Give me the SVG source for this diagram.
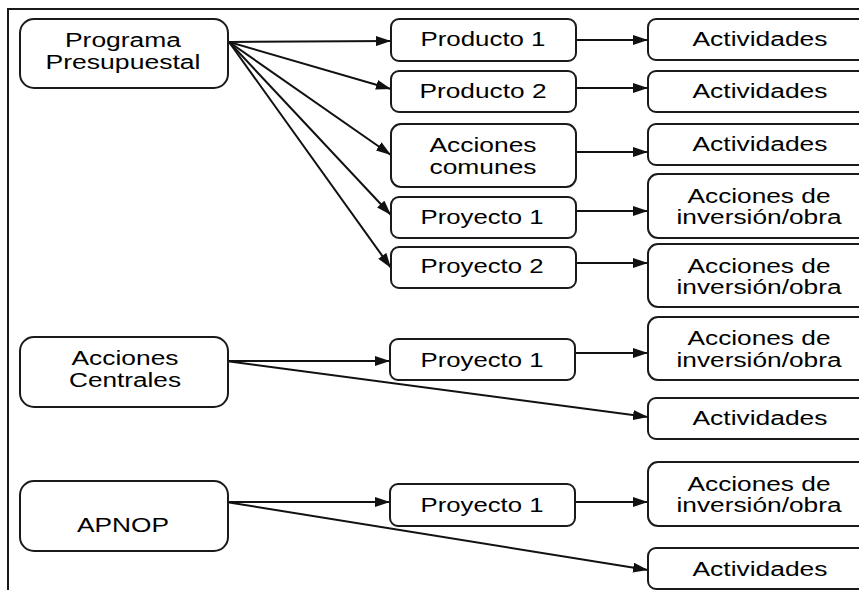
<svg xmlns="http://www.w3.org/2000/svg" width="859" height="590" viewBox="0 0 859 590">
<defs>
<style>
.box{fill:#fff;stroke:#1a1a1a;stroke-width:2}
.t{font-family:"Liberation Sans",Arial,sans-serif;font-size:20px;fill:#000;text-anchor:middle}
.c{fill:none;stroke:#111;stroke-width:2}
</style>
<marker id="ah" markerWidth="15" markerHeight="10" refX="15" refY="5" orient="auto" markerUnits="userSpaceOnUse">
<path d="M0,0 L15,5 L0,10 Z" fill="#111"/>
</marker>
</defs>
<rect x="0" y="0" width="859" height="590" fill="#fff"/>
<rect x="8" y="9" width="900" height="700" fill="none" stroke="#1a1a1a" stroke-width="2"/>

<g id="connectors">
<path class="c" marker-end="url(#ah)" d="M229,42 L391,41"/>
<path class="c" marker-end="url(#ah)" d="M229,42 L391,89"/>
<path class="c" marker-end="url(#ah)" d="M229,42 L391,155"/>
<path class="c" marker-end="url(#ah)" d="M229,42 L391,215"/>
<path class="c" marker-end="url(#ah)" d="M229,42 L391,268"/>
<path class="c" marker-end="url(#ah)" d="M576,40 L648,40"/>
<path class="c" marker-end="url(#ah)" d="M576,88 L648,88"/>
<path class="c" marker-end="url(#ah)" d="M576,152 L648,152"/>
<path class="c" marker-end="url(#ah)" d="M576,211 L648,211"/>
<path class="c" marker-end="url(#ah)" d="M576,263 L648,263"/>
<path class="c" marker-end="url(#ah)" d="M226,361 L390,361"/>
<path class="c" marker-end="url(#ah)" d="M226,361 L648,417"/>
<path class="c" marker-end="url(#ah)" d="M576,353 L648,353"/>
<path class="c" marker-end="url(#ah)" d="M226,502 L390,502"/>
<path class="c" marker-end="url(#ah)" d="M226,502 L648,570"/>
<path class="c" marker-end="url(#ah)" d="M576,502 L648,502"/>
</g>

<g id="programa-presupuestal">
<rect class="box" x="20" y="19" width="208" height="69" rx="14"/>
<text class="t" x="123" y="47" textLength="116" lengthAdjust="spacingAndGlyphs">Programa</text>
<text class="t" x="123" y="69" textLength="155" lengthAdjust="spacingAndGlyphs">Presupuestal</text>
</g>
<g id="producto-1">
<rect class="box" x="391" y="19" width="185" height="42" rx="8"/>
<text class="t" x="483" y="46" textLength="125" lengthAdjust="spacingAndGlyphs">Producto 1</text>
</g>
<g id="actividades-1">
<rect class="box" x="648" y="19" width="230" height="41" rx="8"/>
<text class="t" x="760" y="46" textLength="135" lengthAdjust="spacingAndGlyphs">Actividades</text>
</g>
<g id="producto-2">
<rect class="box" x="391" y="71" width="185" height="41" rx="8"/>
<text class="t" x="483" y="98" textLength="127" lengthAdjust="spacingAndGlyphs">Producto 2</text>
</g>
<g id="actividades-2">
<rect class="box" x="648" y="71" width="230" height="41" rx="8"/>
<text class="t" x="760" y="98" textLength="135" lengthAdjust="spacingAndGlyphs">Actividades</text>
</g>
<g id="acciones-comunes">
<rect class="box" x="391" y="124" width="185" height="63" rx="10"/>
<text class="t" x="483" y="152" textLength="107" lengthAdjust="spacingAndGlyphs">Acciones</text>
<text class="t" x="483" y="174" textLength="107" lengthAdjust="spacingAndGlyphs">comunes</text>
</g>
<g id="actividades-3">
<rect class="box" x="648" y="124" width="230" height="41" rx="8"/>
<text class="t" x="760" y="151" textLength="135" lengthAdjust="spacingAndGlyphs">Actividades</text>
</g>
<g id="proyecto-1">
<rect class="box" x="391" y="197" width="185" height="41" rx="8"/>
<text class="t" x="482" y="224" textLength="123" lengthAdjust="spacingAndGlyphs">Proyecto 1</text>
</g>
<g id="acciones-inversion-1">
<rect class="box" x="648" y="174" width="230" height="64" rx="10"/>
<text class="t" x="759" y="203" textLength="143" lengthAdjust="spacingAndGlyphs">Acciones de</text>
<text class="t" x="759" y="224" textLength="165" lengthAdjust="spacingAndGlyphs">inversión/obra</text>
</g>
<g id="proyecto-2">
<rect class="box" x="391" y="247" width="185" height="41" rx="8"/>
<text class="t" x="482" y="273" textLength="123" lengthAdjust="spacingAndGlyphs">Proyecto 2</text>
</g>
<g id="acciones-inversion-2">
<rect class="box" x="648" y="244" width="230" height="63" rx="10"/>
<text class="t" x="759" y="273" textLength="143" lengthAdjust="spacingAndGlyphs">Acciones de</text>
<text class="t" x="759" y="294" textLength="165" lengthAdjust="spacingAndGlyphs">inversión/obra</text>
</g>
<g id="acciones-centrales">
<rect class="box" x="20" y="337" width="208" height="70" rx="14"/>
<text class="t" x="125" y="365" textLength="107" lengthAdjust="spacingAndGlyphs">Acciones</text>
<text class="t" x="125" y="387" textLength="112" lengthAdjust="spacingAndGlyphs">Centrales</text>
</g>
<g id="ac-proyecto-1">
<rect class="box" x="390" y="339" width="185" height="41" rx="8"/>
<text class="t" x="482" y="367" textLength="123" lengthAdjust="spacingAndGlyphs">Proyecto 1</text>
</g>
<g id="ac-acciones-inversion">
<rect class="box" x="648" y="317" width="230" height="63" rx="10"/>
<text class="t" x="759" y="345" textLength="143" lengthAdjust="spacingAndGlyphs">Acciones de</text>
<text class="t" x="759" y="367" textLength="165" lengthAdjust="spacingAndGlyphs">inversión/obra</text>
</g>
<g id="ac-actividades">
<rect class="box" x="648" y="398" width="230" height="41" rx="8"/>
<text class="t" x="760" y="425" textLength="135" lengthAdjust="spacingAndGlyphs">Actividades</text>
</g>
<g id="apnop">
<rect class="box" x="20" y="481" width="208" height="70" rx="14"/>
<text class="t" x="123" y="532" textLength="92" lengthAdjust="spacingAndGlyphs">APNOP</text>
</g>
<g id="apnop-proyecto-1">
<rect class="box" x="390" y="484" width="185" height="42" rx="8"/>
<text class="t" x="482" y="512" textLength="123" lengthAdjust="spacingAndGlyphs">Proyecto 1</text>
</g>
<g id="apnop-acciones-inversion">
<rect class="box" x="648" y="462" width="230" height="64" rx="10"/>
<text class="t" x="759" y="491" textLength="143" lengthAdjust="spacingAndGlyphs">Acciones de</text>
<text class="t" x="759" y="512" textLength="165" lengthAdjust="spacingAndGlyphs">inversión/obra</text>
</g>
<g id="apnop-actividades">
<rect class="box" x="648" y="548" width="230" height="41" rx="8"/>
<text class="t" x="760" y="576" textLength="135" lengthAdjust="spacingAndGlyphs">Actividades</text>
</g>
</svg>
